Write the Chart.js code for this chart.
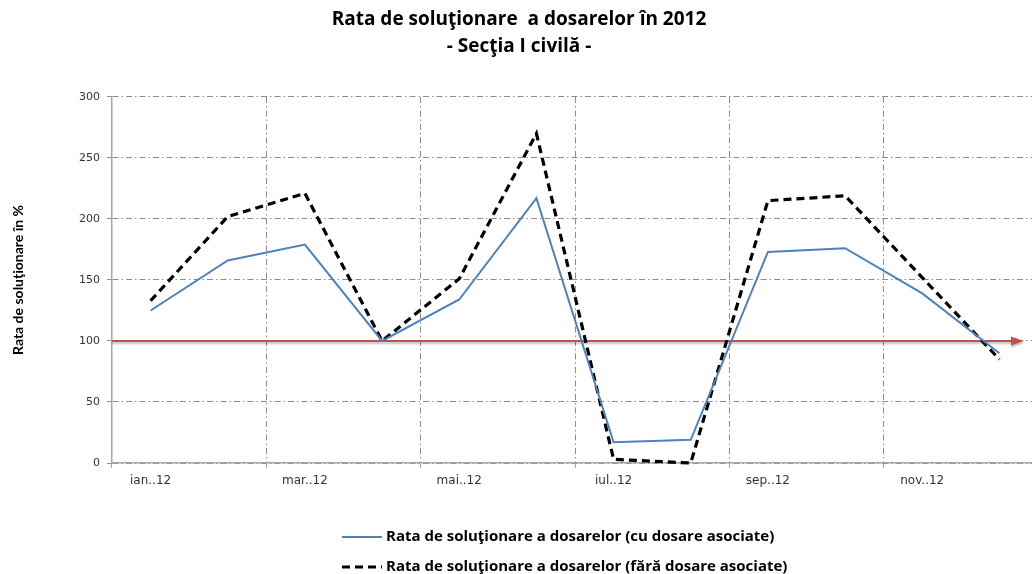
<!DOCTYPE html>
<html>
<head>
<meta charset="utf-8">
<script src="https://cdn.jsdelivr.net/npm/chart.js@4.4.0/dist/chart.umd.min.js"></script>
<style>
  html, body { margin: 0; padding: 0; background: #fff; overflow: hidden; }
  #wrap { width: 1040px; height: 574px; }
</style>
</head>
<body>
<div id="wrap"><canvas id="chart"></canvas></div>
<script>
const luni = ['ian..12', 'feb..12', 'mar..12', 'apr..12', 'mai..12', 'iun..12',
              'iul..12', 'aug..12', 'sep..12', 'oct..12', 'nov..12', 'dec..12'];
const cuAsociate = [125, 166, 179, 100, 134, 217, 17, 19, 173, 176, 139, 90];
const faraAsociate = [133, 202, 221, 100, 151, 270, 3, 0, 215, 219, 152, 85];
const pragRata = 100;
const yTicks = [0, 50, 100, 150, 200, 250, 300];

const titlu = ['Rata de soluţionare  a dosarelor în 2012', '- Secţia I civilă -'];
const titluY = 'Rata de soluţionare în %';
const etichete = ['Rata de soluţionare a dosarelor (cu dosare asociate)',
                  'Rata de soluţionare a dosarelor (fără dosare asociate)'];

const gridGray = '#8c8c8c';
const axisGray = '#a6a6a6';

// linia rosie de 100% cu sageata
const pragPlugin = {
  id: 'prag',
  beforeDatasetsDraw(chart) {
    const {ctx, chartArea, scales} = chart;
    const y = scales.y.getPixelForValue(pragRata);
    const x0 = chartArea.left;
    const x1 = 1013;
    ctx.save();
    ctx.shadowColor = 'rgba(0,0,0,0.25)';
    ctx.shadowOffsetY = 2;
    ctx.shadowBlur = 2;
    ctx.strokeStyle = '#c0504d';
    ctx.fillStyle = '#c0504d';
    ctx.lineWidth = 2.2;
    ctx.beginPath();
    ctx.moveTo(x0, y);
    ctx.lineTo(x1, y);
    ctx.stroke();
    ctx.beginPath();
    ctx.moveTo(x1 - 2, y - 4.5);
    ctx.lineTo(x1 + 11, y);
    ctx.lineTo(x1 - 2, y + 4.5);
    ctx.closePath();
    ctx.fill();
    ctx.restore();
  }
};

// legenda pe doua randuri, sub grafic
const legendaPlugin = {
  id: 'legenda',
  afterDraw(chart) {
    const {ctx} = chart;
    const rows = [537, 567];
    ctx.save();
    ctx.font = 'bold 15px "Open Sans"';
    ctx.textBaseline = 'middle';
    chart.data.datasets.forEach((ds, i) => {
      const y = rows[i];
      ctx.strokeStyle = ds.borderColor;
      ctx.lineWidth = ds.borderWidth;
      ctx.setLineDash(ds.borderDash || []);
      ctx.beginPath();
      ctx.moveTo(342, y);
      ctx.lineTo(382, y);
      ctx.stroke();
      ctx.setLineDash([]);
      ctx.fillStyle = '#000';
      ctx.fillText(ds.label, 386, y);
    });
    ctx.restore();
  }
};

new Chart(document.getElementById('chart'), {
  type: 'line',
  data: {
    labels: luni,
    datasets: [
      {
        label: etichete[0],
        data: cuAsociate,
        borderColor: '#4f81bd',
        borderWidth: 2,
        pointRadius: 0,
        tension: 0,
        clip: 6
      },
      {
        label: etichete[1],
        data: faraAsociate,
        borderColor: '#000000',
        borderWidth: 3.2,
        borderDash: [8, 5],
        pointRadius: 0,
        tension: 0,
        clip: 6
      }
    ]
  },
  options: {
    responsive: true,
    maintainAspectRatio: false,
    animation: false,
    layout: { padding: { left: 0, right: 2, top: 0, bottom: 76 } },
    plugins: {
      legend: { display: false },
      tooltip: { enabled: false },
      title: {
        display: true,
        text: titlu,
        color: '#000',
        font: { family: 'Open Sans', size: 19, weight: 'bold', lineHeight: 1.42 },
        padding: { top: 6, bottom: 37 }
      }
    },
    scales: {
      x: {
        offset: true,
        grid: {
          offset: true,
          color: (c) => c.index % 2 === 0 ? gridGray : 'rgba(0,0,0,0)',
          tickColor: (c) => c.index % 2 === 0 ? axisGray : 'rgba(0,0,0,0)',
          lineWidth: 1,
          tickLength: 5
        },
        border: { color: axisGray, width: 1.5, dash: [6, 3, 1.5, 3] },
        ticks: {
          autoSkip: false,
          maxRotation: 0,
          padding: 6,
          color: '#333',
          font: { family: 'DejaVu Sans', size: 12 },
          callback: function (v, i) { return i % 2 === 0 ? luni[i] : ''; }
        },
        afterFit: (s) => { s.height = 35; }
      },
      y: {
        min: 0,
        max: 300,
        afterBuildTicks: (s) => { s.ticks = yTicks.map(v => ({value: v})); },
        grid: {
          color: gridGray,
          tickColor: gridGray,
          lineWidth: 1,
          tickLength: 5
        },
        border: { color: axisGray, width: 1.5, dash: [6, 3, 1.5, 3] },
        ticks: {
          padding: 7,
          color: '#333',
          font: { family: 'DejaVu Sans', size: 11 }
        },
        title: {
          display: true,
          text: titluY,
          color: '#000',
          font: { family: 'Lato', size: 14, weight: 'bold' },
          padding: { top: 10, bottom: 0 }
        },
        afterFit: (s) => { s.width = 112; }
      }
    }
  },
  plugins: [pragPlugin, legendaPlugin]
});
</script>
</body>
</html>
